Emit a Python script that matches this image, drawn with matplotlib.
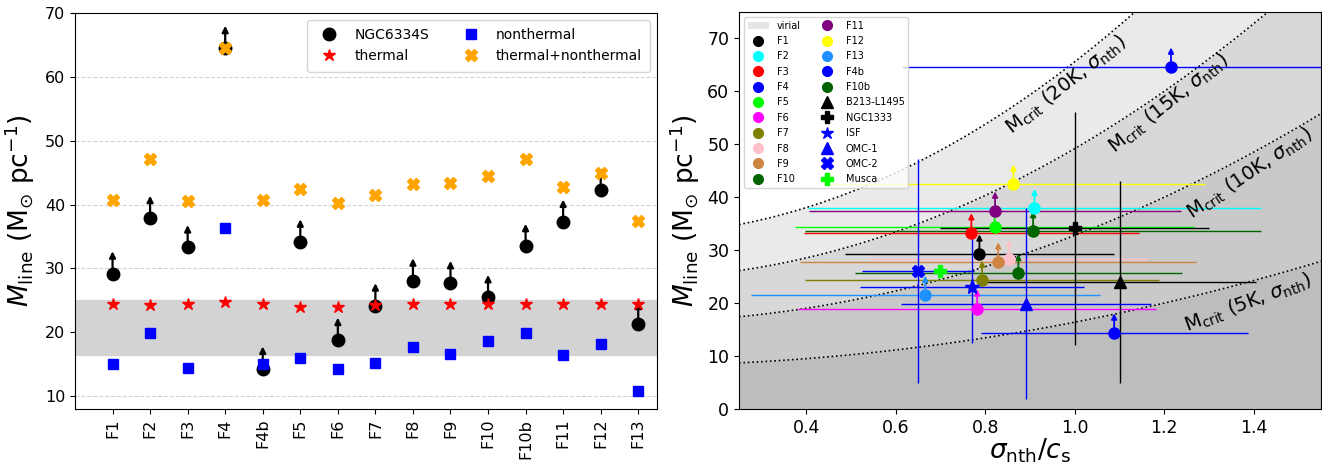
import numpy as np
import matplotlib.pyplot as plt
from matplotlib.lines import Line2D
from matplotlib.patches import Patch

# left panel: line masses of the filaments
filaments = ["F1", "F2", "F3", "F4", "F4b", "F5", "F6", "F7", "F8", "F9",
             "F10", "F10b", "F11", "F12", "F13"]
m_obs = [29.2, 37.9, 33.3, 64.5, 14.3, 34.2, 18.8, 24.2, 28.1, 27.7,
         25.5, 33.5, 37.3, 42.3, 21.3]
m_th = [24.4, 24.3, 24.4, 24.7, 24.4, 24.0, 23.9, 24.3, 24.4, 24.4,
        24.4, 24.4, 24.4, 24.4, 24.4]
m_nth = [15.1, 19.9, 14.4, 36.3, 15.0, 16.0, 14.3, 15.2, 17.7, 16.6,
         18.6, 19.9, 16.5, 18.1, 10.8]
m_tot = [40.7, 47.2, 40.6, 64.5, 40.7, 42.5, 40.3, 41.5, 43.2, 43.4,
         44.5, 47.1, 42.8, 45.0, 37.5]
band = (16.5, 25.0)

# right panel: filaments in sigma_nth/c_s vs M_line
f_names = ["F1", "F2", "F3", "F4", "F5", "F6", "F7", "F8", "F9", "F10",
           "F11", "F12", "F13", "F4b", "F10b"]
f_colors = ["black", "cyan", "red", "blue", "lime", "magenta", "olive", "pink",
            "peru", "darkgreen", "purple", "yellow", "dodgerblue", "blue", "darkgreen"]
f_ratio = [0.787, 0.91, 0.769, 1.215, 0.821, 0.782, 0.793, 0.853, 0.829, 0.874,
           0.822, 0.863, 0.666, 1.088, 0.907]
f_ratio_err = [0.30, 0.505, 0.374, 0.60, 0.445, 0.40, 0.396, 0.31, 0.442, 0.365,
               0.416, 0.428, 0.39, 0.298, 0.51]
f_mline = [29.3, 37.9, 33.3, 64.6, 34.3, 18.9, 24.35, 28.3, 27.8, 25.6,
           37.4, 42.5, 21.5, 14.35, 33.7]

# literature filaments
lit_names = ["B213-L1495", "NGC1333", "ISF", "OMC-1", "OMC-2", "Musca"]
lit_markers = ["^", "P", "*", "^", "X", "P"]
lit_colors = ["black", "black", "blue", "blue", "blue", "lime"]
lit_ratio = [1.10, 1.0, 0.77, 0.891, 0.65, 0.70]
lit_ratio_err = [0.305, 0.30, 0.25, 0.28, 0.125, 0.0]
lit_mline = [24.0, 34.1, 23.1, 19.9, 26.05, 26.05]
lit_mline_err = [19.0, 22.0, 10.6, 18.0, 21.1, 0.0]

temps = [5, 10, 15, 20]
mcrit_10k = 16.4  # 2 c_s^2 / G at 10 K, Msun/pc

ylab = r"$M_{\rm line}$ (M$_{\odot}$ pc$^{-1}$)"

fig = plt.figure(figsize=(13.22, 4.68), dpi=100)
ax1 = fig.add_axes([75 / 1322, 59 / 468, 582 / 1322, 396 / 468])
ax2 = fig.add_axes([739 / 1322, 59 / 468, 582 / 1322, 397 / 468])

# ---- left panel
xpos = np.arange(len(filaments))
ax1.axhspan(*band, color="lightgray", zorder=0)
ax1.grid(axis="y", ls="--", color="lightgray", lw=0.8)
for x, y in zip(xpos, m_obs):
    ax1.annotate("", xy=(x, y + 3.5), xytext=(x, y),
                 arrowprops=dict(arrowstyle="-|>", color="k", lw=1.6,
                                 mutation_scale=9, shrinkA=0, shrinkB=0))
ax1.plot(xpos, m_obs, "o", color="k", ms=9, ls="none", label="NGC6334S", zorder=3)
ax1.plot(xpos, m_th, "*", color="red", ms=9, ls="none", label="thermal", zorder=4)
ax1.plot(xpos, m_nth, "s", color="blue", ms=6.5, ls="none", label="nonthermal", zorder=4)
ax1.plot(xpos, m_tot, "X", color="orange", ms=8, ls="none",
         label="thermal+nonthermal", zorder=5)
ax1.set_xlim(-1, 14.5)
ax1.set_ylim(8, 70)
ax1.set_xticks(xpos)
ax1.set_xticklabels(filaments, rotation=90)
ax1.tick_params(labelsize=11.5)
ax1.set_ylabel(ylab, fontsize=19, labelpad=6)
ax1.legend(loc="upper right", ncol=2, fontsize=10, borderpad=0.6)

# ---- right panel
xs = np.linspace(0.25, 1.55, 300)
gray_alpha = 0.16
for T in temps:
    curve = mcrit_10k * T / 10 * (1 + xs ** 2)
    ax2.fill_between(xs, 0, curve, color="gray", alpha=gray_alpha, lw=0, zorder=0)
    ax2.plot(xs, curve, ":", color="k", lw=1.2, zorder=1)

label_pos = {20: (0.98, 61.2, 38), 15: (1.21, 57.8, 38.5),
             10: (1.39, 44.5, 34), 5: (1.387, 20.0, 20.5)}
for T, (lx, ly, rot) in label_pos.items():
    ax2.text(lx, ly, r"M$_{\rm crit}$ (%dK, $\sigma_{\rm nth}$)" % T, fontsize=14,
             rotation=rot, ha="center", va="center", rotation_mode="anchor")

for x, xe, y, c in zip(f_ratio, f_ratio_err, f_mline, f_colors):
    ax2.errorbar(x, y, xerr=xe, color=c, lw=1, ls="none", zorder=2)
    ax2.annotate("", xy=(x, y + 3.7), xytext=(x, y),
                 arrowprops=dict(arrowstyle="-|>", color=c, lw=1.3,
                                 mutation_scale=8, shrinkA=0, shrinkB=0), zorder=3)
for x, y, c in zip(f_ratio, f_mline, f_colors):
    ax2.plot(x, y, "o", color=c, ms=8, zorder=4)

for x, xe, y, ye, c, m in zip(lit_ratio, lit_ratio_err, lit_mline,
                              lit_mline_err, lit_colors, lit_markers):
    if xe > 0 or ye > 0:
        ax2.errorbar(x, y, xerr=xe, yerr=ye, color=c, lw=1, ls="none", zorder=2)
    ms = 11 if m == "*" else 9
    ax2.plot(x, y, m, color=c, ms=ms, zorder=4)

ax2.set_xlim(0.25, 1.55)
ax2.set_ylim(0, 75)
ax2.set_xticks([0.4, 0.6, 0.8, 1.0, 1.2, 1.4])
ax2.tick_params(labelsize=12.5)
ax2.set_xlabel(r"$\sigma_{\rm nth}/c_{\rm s}$", fontsize=19, labelpad=0)
ax2.set_ylabel(ylab, fontsize=19)

handles = [Patch(facecolor="gray", alpha=0.2, label="virial")]
for n, c in zip(f_names, f_colors):
    handles.append(Line2D([], [], marker="o", color=c, ls="none", ms=7, label=n))
for n, c, m in zip(lit_names, lit_colors, lit_markers):
    handles.append(Line2D([], [], marker=m, color=c, ls="none",
                          ms=9 if m == "*" else 8, label=n))
ax2.legend(handles=handles, loc="upper left", ncol=2, fontsize=7, labelspacing=0.55,
           columnspacing=1.6, handlelength=2.2)

plt.savefig("out.png", dpi=100)
